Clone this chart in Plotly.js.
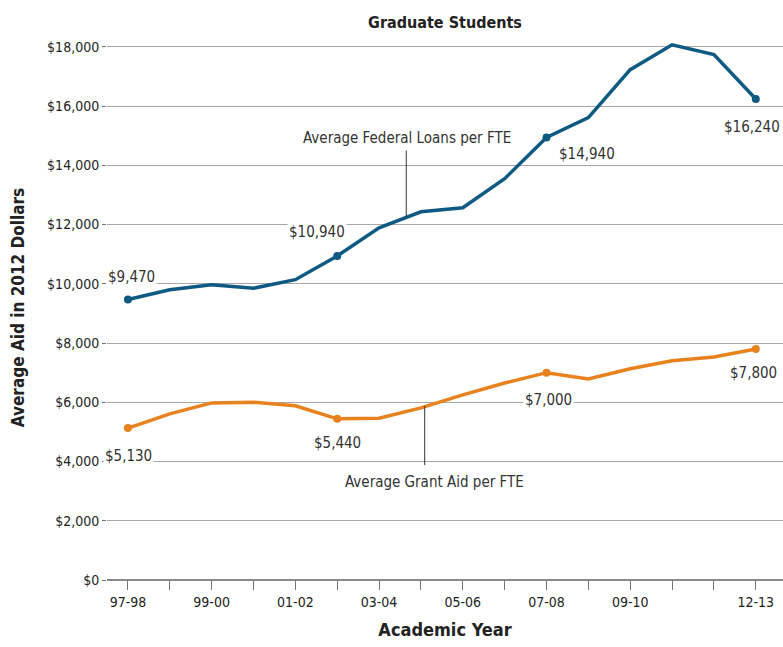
<!DOCTYPE html>
<html><head><meta charset="utf-8">
<script src="https://cdn.plot.ly/plotly-3.0.1.min.js"></script>
<style>html,body{margin:0;padding:0;background:#fff}#chart{width:783px;height:647px}</style>
</head><body><div id="chart"></div>
<script>
const years = ["97-98","98-99","99-00","00-01","01-02","02-03","03-04","04-05","05-06","06-07","07-08","08-09","09-10","10-11","11-12","12-13"];
const shownTicks = ["97-98","99-00","01-02","03-04","05-06","07-08","09-10","12-13"];
const loans = [9470,9800,9970,9850,10140,10940,11890,12430,12570,13550,14940,15610,17230,18070,17740,16240];
const grants = [5130,5610,5980,6000,5880,5440,5460,5810,6250,6650,7000,6790,7130,7400,7530,7800];
const labeledYears = ["97-98","02-03","07-08","12-13"];

const FONT = "'Liberation Sans Narrow','DejaVu Sans Condensed','Roboto',sans-serif";
const BLUE = "#0f5a82";
const ORANGE = "#e8821e";
const idx = years.map((_, i) => i);
const markerSizes = years.map(y => labeledYears.includes(y) ? 8 : 0);
const fmt = v => "$" + v.toLocaleString("en-US");

const traces = [
  {x: idx, y: loans, mode: "lines+markers", line: {color: BLUE, width: 3.5}, marker: {color: BLUE, opacity: 1, size: markerSizes, line: {width: 0}}, hoverinfo: "skip"},
  {x: idx, y: grants, mode: "lines+markers", line: {color: ORANGE, width: 3.5}, marker: {color: ORANGE, opacity: 1, size: markerSizes, line: {width: 0}}, hoverinfo: "skip"}
];

const loanShift = {"97-98": [4, 23], "02-03": [-20, 24], "07-08": [40, -17], "12-13": [-4, -28]};
const grantShift = {"97-98": [1, -28], "02-03": [0, -24], "07-08": [2, -27], "12-13": [-2, -24]};
const annotations = [];
labeledYears.forEach(yr => {
  const i = years.indexOf(yr);
  annotations.push({x: i, y: loans[i], xref: "x", yref: "y", text: fmt(loans[i]), showarrow: false,
    xshift: loanShift[yr][0], yshift: loanShift[yr][1], bgcolor: "#fff", borderpad: 1,
    font: {family: FONT, size: 15, color: "#333"}});
  annotations.push({x: i, y: grants[i], xref: "x", yref: "y", text: fmt(grants[i]), showarrow: false,
    xshift: grantShift[yr][0], yshift: grantShift[yr][1], bgcolor: "#fff", borderpad: 1,
    font: {family: FONT, size: 15, color: "#333"}});
});
annotations.push({x: 6.66, y: 14930, xref: "x", yref: "y", text: "Average Federal Loans per FTE", showarrow: false,
  font: {family: FONT, size: 15, color: "#333"}});
annotations.push({x: 7.33, y: 3320, xref: "x", yref: "y", text: "Average Grant Aid per FTE", showarrow: false,
  font: {family: FONT, size: 15, color: "#333"}});

const shapes = [
  {type: "line", xref: "x", yref: "y", x0: 6.65, x1: 6.65, y0: 14500, y1: 12260, line: {color: "#333", width: 1}},
  {type: "line", xref: "x", yref: "y", x0: 7.09, x1: 7.09, y0: 5870, y1: 3880, line: {color: "#333", width: 1}}
];

const layout = {
  width: 783, height: 647,
  margin: {l: 107, r: 0, t: 35, b: 67},
  paper_bgcolor: "#fff", plot_bgcolor: "#fff",
  showlegend: false,
  font: {family: FONT, size: 14, color: "#222"},
  title: {text: "<b>Graduate Students</b>", x: 0.5, xref: "paper", xanchor: "center", y: 0.966, yref: "container", yanchor: "middle",
    font: {family: FONT, size: 16, color: "#222"}},
  xaxis: {
    range: [-0.5, 15.65], tickvals: idx,
    ticktext: years.map(y => shownTicks.includes(y) ? y : ""),
    ticks: "outside", ticklen: 9, tickcolor: "#777", tickwidth: 1,
    showgrid: false, zeroline: false, showline: false,
    tickfont: {family: FONT, size: 14, color: "#222"},
    title: {text: "<b>Academic Year</b>", font: {family: FONT, size: 18, color: "#222"}, standoff: 14}
  },
  yaxis: {
    range: [0, 18400], tickvals: [0,2000,4000,6000,8000,10000,12000,14000,16000,18000],
    ticktext: ["$0","$2,000","$4,000","$6,000","$8,000","$10,000","$12,000","$14,000","$16,000","$18,000"],
    ticks: "outside", ticklen: 4, tickcolor: "#777",
    showgrid: true, gridcolor: "#a8a8a8", gridwidth: 1, zeroline: true, zerolinecolor: "#888", zerolinewidth: 1.5,
    showline: false,
    tickfont: {family: FONT, size: 14, color: "#222"},
    title: {text: "<b>Average Aid in 2012 Dollars</b>", font: {family: FONT, size: 17, color: "#222"}, standoff: 18}
  },
  annotations: annotations,
  shapes: shapes
};

Plotly.newPlot("chart", traces, layout, {displayModeBar: false, staticPlot: true});
</script></body></html>
